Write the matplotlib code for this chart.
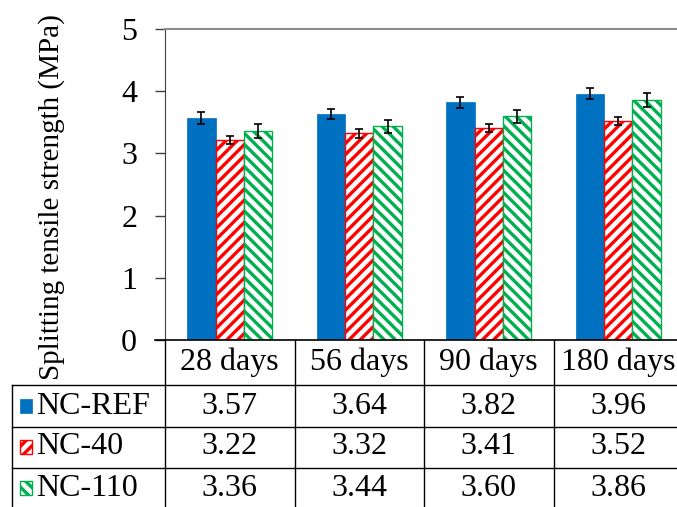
import matplotlib
matplotlib.use("Agg")
import matplotlib.pyplot as plt
from matplotlib.patches import Rectangle
from matplotlib.transforms import blended_transform_factory

plt.rcParams['font.family'] = ['Liberation Serif', 'DejaVu Serif']
plt.rcParams['hatch.linewidth'] = 2.4

# data
ages = ['28 days', '56 days', '90 days', '180 days']
series = ['NC-REF', 'NC-40', 'NC-110']
nc_ref = [3.57, 3.64, 3.82, 3.96]
nc_40 = [3.22, 3.32, 3.41, 3.52]
nc_110 = [3.36, 3.44, 3.60, 3.86]
err_ref = [0.09, 0.08, 0.085, 0.09]
err_40 = [0.065, 0.065, 0.065, 0.065]
err_110 = [0.11, 0.105, 0.105, 0.11]

values = [nc_ref, nc_40, nc_110]
errors = [err_ref, err_40, err_110]
colors = ['#0070C0', '#FF0000', '#00B050']
hatches = [None, '///', '\\\\\\']

W, H = 677, 507
fig = plt.figure(figsize=(W / 100, H / 100), dpi=100)

# pixel-space overlay for the data table
ov = fig.add_axes([0, 0, 1, 1])
ov.set_xlim(0, W)
ov.set_ylim(H, 0)
ov.axis('off')

ax = fig.add_axes([165 / W, (H - 340) / H, 518 / W, 311 / H])
ax.set_xlim(-0.5, len(ages) - 0.5)
ax.set_ylim(0, 5)

bw = 0.22
x = list(range(len(ages)))
for k in range(3):
    xs = [i + (k - 1) * bw for i in x]
    if hatches[k] is None:
        ax.bar(xs, values[k], bw, color=colors[k], edgecolor=colors[k], lw=0.5, zorder=2)
    else:
        ax.bar(xs, values[k], bw, color='white', edgecolor=colors[k], hatch=hatches[k], lw=1.0, zorder=2)
    ax.errorbar(xs, values[k], yerr=errors[k], fmt='none', ecolor='black',
                elinewidth=1.2, capsize=3, capthick=1.2, zorder=3)

ax.set_yticks(range(6))
ax.tick_params(axis='y', length=7, width=1, color='#404040', labelsize=23, pad=13)
ax.set_xticks([])
ax.spines['right'].set_visible(False)
ax.spines['top'].set_color('#8c8c8c')
ax.spines['top'].set_linewidth(1.5)
ax.spines['left'].set_color('#404040')
ax.spines['bottom'].set_color('black')
ax.spines['bottom'].set_linewidth(1.2)
ax.plot([-0.5 - 10 / 129.5, -0.5], [0, 0], color='black', lw=1.2, clip_on=False)

fig.text(52 / W, (H - 197) / H, 'Splitting tensile strength (MPa)', rotation=90,
         ha='center', va='center', fontsize=21)

# data table
tr = blended_transform_factory(ax.transData, ov.transData)
row_lines = [385, 427, 468]
row_centers = [362, 406, 447, 488]
for b in range(len(ages) + 1):
    ov.plot([b - 0.5, b - 0.5], [340, H], color='black', lw=1, transform=tr, clip_on=False)
for y in row_lines:
    ov.plot([12, W], [y, y], color='black', lw=1)
ov.plot([12, 12], [385, H], color='black', lw=1)

for i, lab in enumerate(ages):
    ax.text(i, row_centers[0], lab, transform=tr, ha='center', va='center', fontsize=23)
for k in range(3):
    yc = row_centers[k + 1]
    for i in range(len(ages)):
        ax.text(i, yc, f'{values[k][i]:.2f}', transform=tr, ha='center', va='center', fontsize=23)
    if hatches[k] is None:
        key = Rectangle((20, yc - 7), 12, 14, facecolor=colors[k], edgecolor=colors[k], lw=0.5)
    else:
        key = Rectangle((20, yc - 7), 12, 14, facecolor='white', edgecolor=colors[k],
                        hatch=hatches[k], lw=1)
    ov.add_patch(key)
    ov.text(36, yc, series[k], ha='left', va='center', fontsize=23)

fig.savefig('out.png', dpi=100)
